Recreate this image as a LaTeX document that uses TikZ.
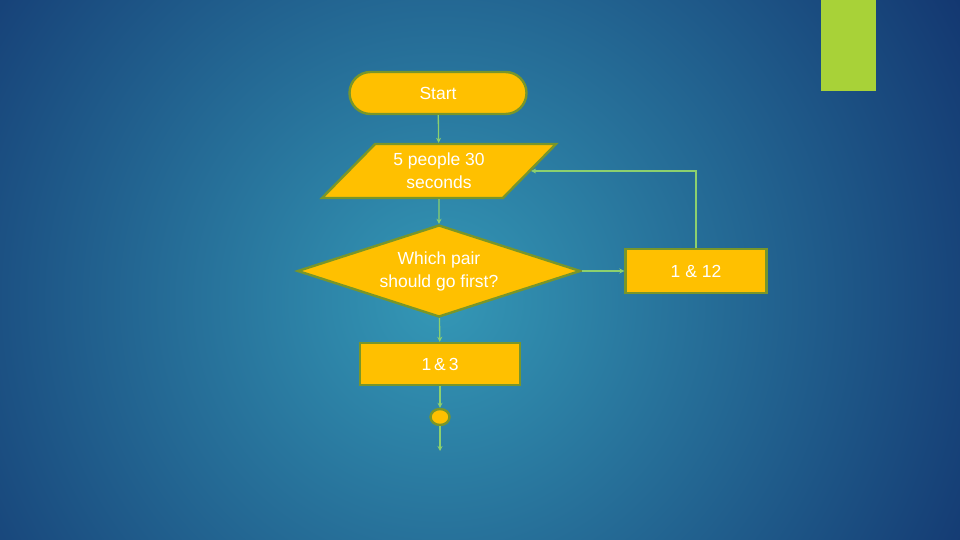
\documentclass[tikz,border=0pt]{standalone}
\usepackage{fontspec}
\setmainfont{Liberation Sans}
\usetikzlibrary{arrows.meta,positioning,shapes.geometric}
\definecolor{bgdark}{RGB}{16,46,106}
\definecolor{bglight}{RGB}{52,152,182}
\definecolor{fcyellow}{RGB}{255,192,0}
\definecolor{fcedge}{RGB}{120,150,42}
\definecolor{fcline}{RGB}{140,208,110}
\definecolor{barlime}{RGB}{168,210,56}

\begin{document}
\begin{tikzpicture}[x=1pt,y=-1pt,font=\fontsize{17.5}{23}\selectfont,
    fcshape/.style={fill=fcyellow,draw=fcedge,line width=2.4pt,text=white,
      align=center,inner sep=0pt},
    fcbox/.style={fcshape,rectangle,minimum height=42pt},
    fcflow/.style={draw=fcline,line width=1.3pt,-{Stealth[length=5pt,width=5pt]}}]
  % background
  \fill[bgdark] (0,0) rectangle (960,540);
  \begin{scope}
    \clip (0,0) rectangle (960,540);
    \shade[inner color=bglight,outer color=bgdark] (440,300) circle (660);
  \end{scope}
  \fill[barlime] (821,0) rectangle (876,91);
  % flow chart
  \node[fcbox,rounded corners=21pt,minimum width=177pt] (start) at (438,93) {Start};
  \node[fcshape,trapezium,trapezium left angle=34,trapezium right angle=146,
    trapezium stretches body,minimum width=234pt,minimum height=54pt]
    (input) at (439,171) {5 people 30\\seconds};
  \node[fcshape,diamond,aspect=3.08,minimum width=283pt,minimum height=92pt]
    (ask) at (439,271) {Which pair\\should go first?};
  \node[fcbox,minimum width=160pt] (pairA) at (440,364) {1\,\&\,3};
  \node[fcbox,minimum width=141pt,minimum height=44pt] (pairB) at (696,271) {1 \& 12};
  \node[fcshape,ellipse,minimum width=19pt,minimum height=16pt] (dot) at (440,417) {};
  \coordinate (exit) at (440,451);
  \draw[fcflow] (start) -- (input);
  \draw[fcflow] (input) -- (ask);
  \draw[fcflow] (ask) -- (pairA);
  \draw[fcflow] (pairA) -- (dot);
  \draw[fcflow] (dot) -- (exit);
  \draw[fcflow] (ask.east) -- (pairB.west);
  \draw[fcflow] (pairB.north) |- (input.east);
\end{tikzpicture}
\end{document}
